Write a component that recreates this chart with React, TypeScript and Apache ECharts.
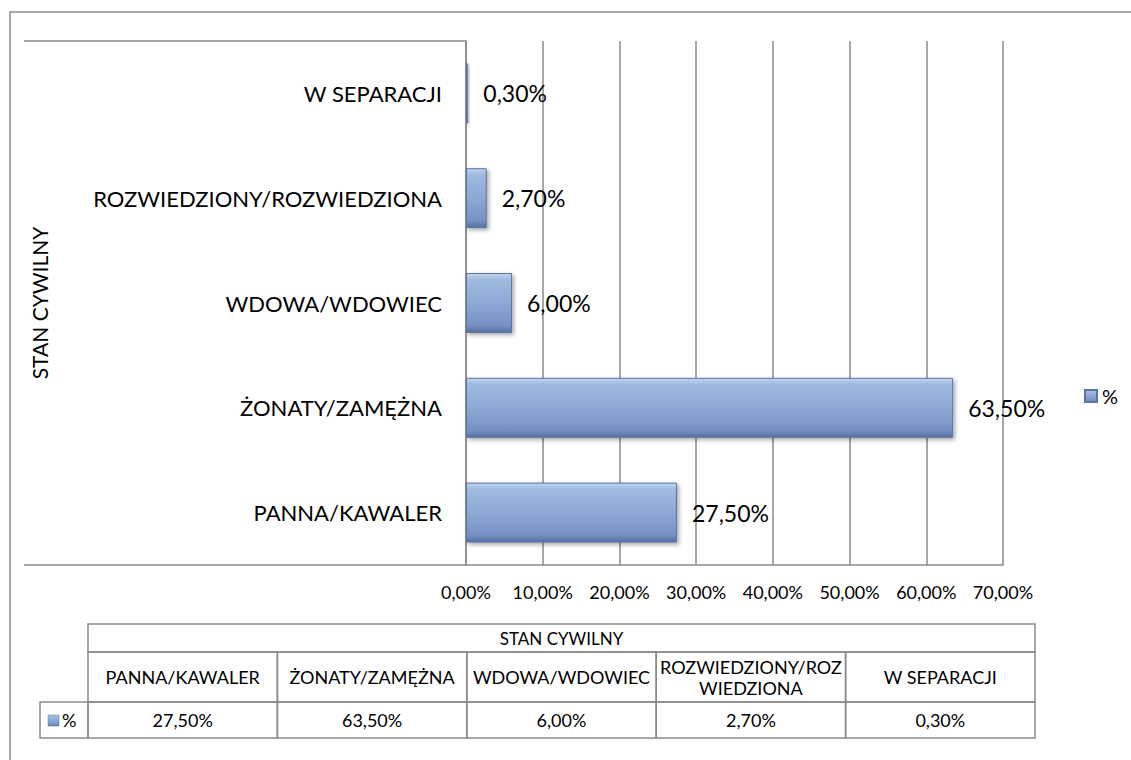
import React, { useEffect, useRef } from "react";
import * as echarts from "echarts";

const categories = [
  "PANNA/KAWALER",
  "ŻONATY/ZAMĘŻNA",
  "WDOWA/WDOWIEC",
  "ROZWIEDZIONY/ROZWIEDZIONA",
  "W SEPARACJI",
];
const values = [27.5, 63.5, 6.0, 2.7, 0.3];
const seriesName = "%";
const axisTitle = "STAN CYWILNY";
const xMin = 0;
const xMax = 70;
const xInterval = 10;

const FONT = "Lato, 'Open Sans', sans-serif";
const fmt = (v: number) => v.toFixed(2).replace(".", ",") + "%";

const barGradient = new echarts.graphic.LinearGradient(0, 0, 0, 1, [
  { offset: 0, color: "#c2d4ee" },
  { offset: 0.1, color: "#a1bbe0" },
  { offset: 0.5, color: "#8ca8d4" },
  { offset: 0.88, color: "#7692c3" },
  { offset: 1, color: "#546fa0" },
]);

function wrapText(text: string, font: string, maxW: number): string {
  const ctx = document.createElement("canvas").getContext("2d");
  if (!ctx) return text;
  ctx.font = font;
  if (ctx.measureText(text).width <= maxW) return text;
  const lines: string[] = [];
  let cur = "";
  for (const ch of Array.from(text)) {
    if (cur && ctx.measureText(cur + ch).width > maxW) {
      lines.push(cur);
      cur = ch;
    } else {
      cur += ch;
    }
  }
  if (cur) lines.push(cur);
  return lines.join("\n");
}

function buildTable() {
  const els: any[] = [];
  const grey = "#8a8a8a";
  const tx = 88;
  const colW = 189.4;
  const n = categories.length;
  const y0 = 624, y1 = 652, y2 = 702, y3 = 738;
  const lw = 1.5;
  const cellFont = `18px ${FONT}`;
  els.push({ type: "rect", shape: { x: tx, y: y0, width: colW * n, height: y1 - y0 }, style: { fill: "none", stroke: grey, lineWidth: lw } });
  els.push({ type: "text", x: tx + (colW * n) / 2, y: (y0 + y1) / 2, style: { text: axisTitle, font: `17px ${FONT}`, fill: "#000", align: "center", verticalAlign: "middle" } });
  categories.forEach((c, i) => {
    const x0 = tx + i * colW;
    els.push({ type: "rect", shape: { x: x0, y: y1, width: colW, height: y2 - y1 }, style: { fill: "none", stroke: grey, lineWidth: lw } });
    els.push({ type: "text", x: x0 + colW / 2, y: (y1 + y2) / 2, style: { text: wrapText(c, cellFont, colW - 4), font: cellFont, fill: "#000", align: "center", verticalAlign: "middle", lineHeight: 21 } });
    els.push({ type: "rect", shape: { x: x0, y: y2, width: colW, height: y3 - y2 }, style: { fill: "none", stroke: grey, lineWidth: lw } });
    els.push({ type: "text", x: x0 + colW / 2, y: (y2 + y3) / 2, style: { text: fmt(values[i]), font: cellFont, fill: "#000", align: "center", verticalAlign: "middle" } });
  });
  els.push({ type: "rect", shape: { x: 40, y: y2, width: tx - 40, height: y3 - y2 }, style: { fill: "none", stroke: grey, lineWidth: lw } });
  els.push({ type: "rect", shape: { x: 48, y: 715, width: 11, height: 11 }, style: { fill: barGradient, stroke: "#5a75a6", lineWidth: 0.5 } });
  els.push({ type: "text", x: 62, y: (y2 + y3) / 2, style: { text: seriesName, font: cellFont, fill: "#000", align: "left", verticalAlign: "middle" } });
  return els;
}

export default function App() {
  const ref = useRef<HTMLDivElement>(null);
  useEffect(() => {
    if (!ref.current) return;
    const chart = echarts.init(ref.current, undefined, { renderer: "svg" });
    const grey = "#8a8a8a";
    chart.setOption({
      animation: false,
      backgroundColor: "#ffffff",
      textStyle: { fontFamily: FONT },
      grid: { left: 466, top: 41, right: 128, bottom: 195, containLabel: false },
      legend: {
        show: true,
        left: 1079,
        top: 381,
        icon: "rect",
        itemWidth: 12,
        itemHeight: 12,
        itemGap: 4,
        textStyle: { fontSize: 20, color: "#000", fontFamily: FONT },
        data: [seriesName],
      },
      xAxis: {
        type: "value",
        min: xMin,
        max: xMax,
        interval: xInterval,
        axisLine: { show: true, lineStyle: { color: grey, width: 1.5 } },
        axisTick: { show: false },
        splitLine: { show: true, lineStyle: { color: grey, width: 1.5 } },
        axisLabel: { formatter: (v: number) => fmt(v), fontSize: 18, color: "#000", margin: 18, fontFamily: FONT },
      },
      yAxis: {
        type: "category",
        data: categories,
        name: axisTitle,
        nameLocation: "middle",
        nameGap: 416,
        nameRotate: 90,
        nameTextStyle: { fontSize: 21, color: "#000", fontFamily: FONT },
        axisLine: { show: true, lineStyle: { color: grey, width: 1.5 } },
        axisTick: { show: false },
        axisLabel: { fontSize: 22, color: "#000", margin: 24, fontFamily: FONT },
      },
      series: [
        {
          name: seriesName,
          type: "bar",
          data: values,
          barWidth: 60,
          itemStyle: {
            color: barGradient,
            borderColor: "#5a75a6",
            borderWidth: 1,
            shadowBlur: 4,
            shadowColor: "rgba(0,0,0,0.35)",
            shadowOffsetX: 2,
            shadowOffsetY: 2,
          },
          label: {
            show: true,
            position: "right",
            distance: 15,
            formatter: (p: any) => fmt(p.value),
            fontSize: 23,
            color: "#000",
            fontFamily: FONT,
          },
        },
      ],
      graphic: [
        { type: "rect", shape: { x: 10, y: 12, width: 1200, height: 800 }, style: { fill: "none", stroke: grey, lineWidth: 1.5 }, silent: true },
        { type: "line", shape: { x1: 24, y1: 41, x2: 466, y2: 41 }, style: { stroke: grey, lineWidth: 1.5 } },
        { type: "line", shape: { x1: 24, y1: 565, x2: 466, y2: 565 }, style: { stroke: grey, lineWidth: 1.5 } },
        ...buildTable(),
      ],
    });
    return () => chart.dispose();
  }, []);
  return <div ref={ref} style={{ position: "absolute", left: 0, top: 0, width: 1131, height: 760 }} />;
}
